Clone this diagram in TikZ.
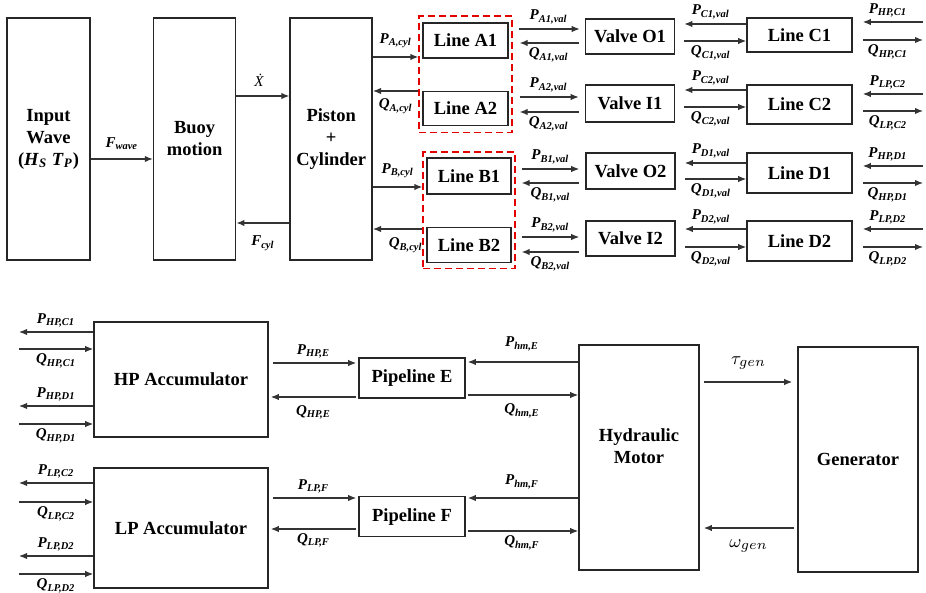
\documentclass[tikz,border=0pt]{standalone}
\usepackage{fontspec}
\setmainfont{Liberation Serif}
\usetikzlibrary{arrows.meta,positioning,fit}
\tikzset{
  blkbox/.style={draw=black!85, line width=0.8pt, align=center, inner sep=0pt, font=\fontsize{9.25}{11}\selectfont\bfseries},
  grpbox/.style={draw=red!90!black, line width=0.8pt, dash pattern=on 3.5pt off 2pt},
  sigarrow/.style={-{Latex[length=4pt,width=3.2pt]}, line width=0.6pt, draw=black!80},
  siglab/.style={font=\fontsize{7.5}{9}\selectfont\bfseries\itshape, inner sep=2.2pt},
  tipgap/.style={shorten >=#1},
  tailgap/.style={shorten <=#1},
}
\newcommand{\sg}[2]{#1\textsubscript{#2}}

\begin{document}
\begin{tikzpicture}[x=0.5pt, y=-0.5pt]
    \useasboundingbox (0,0) rectangle (926,593);
    % wave to cylinder
    \node[blkbox, minimum width=41.5pt, minimum height=121pt] (wave) at (48.5,139) {Input\\Wave\\(\textit{H}\textsubscript{\textit{S}} \textit{T}\textsubscript{\textit{P}})};
    \node[blkbox, right=31pt of wave, minimum width=41pt, minimum height=121pt] (buoy) {Buoy\\motion};
    \node[blkbox, right=26.5pt of buoy, minimum width=41pt, minimum height=121pt] (cyl) {Piston\\+\\Cylinder};
    % lines A and B
    \node[blkbox, minimum width=42.5pt, minimum height=17.5pt] (la1) at (465.5,40.5) {Line A1};
    \node[blkbox, below=16pt of la1, minimum width=42.5pt, minimum height=17pt] (la2) {Line A2};
    \node[blkbox, minimum width=42pt, minimum height=18pt] (lb1) at (469,176) {Line B1};
    \node[blkbox, below=16pt of lb1, minimum width=42pt, minimum height=17.5pt] (lb2) {Line B2};
    \node[grpbox, fit=(la1)(la2), inner xsep=1.5pt, inner ysep=3pt] (grpA) {};
    \node[grpbox, fit=(lb1)(lb2), inner xsep=1.5pt, inner ysep=2.5pt] (grpB) {};
    % valves
    \node[blkbox, minimum width=44.5pt, minimum height=17.5pt] (vo1) at (630,36.5) {Valve O1};
    \node[blkbox, minimum width=44.5pt, minimum height=18.5pt] (vi1) at (630,103.5) {Valve I1};
    \node[blkbox, minimum width=44.5pt, minimum height=18pt] (vo2) at (630.5,171) {Valve O2};
    \node[blkbox, minimum width=44.5pt, minimum height=17.5pt] (vi2) at (630.5,238.5) {Valve I2};
    % lines C and D
    \node[blkbox, minimum width=52.5pt, minimum height=17pt] (lc1) at (799.5,35) {Line C1};
    \node[blkbox, minimum width=52.5pt, minimum height=19.5pt] (lc2) at (799.5,104.5) {Line C2};
    \node[blkbox, minimum width=52.5pt, minimum height=20pt] (ld1) at (799.5,173) {Line D1};
    \node[blkbox, minimum width=52.5pt, minimum height=20pt] (ld2) at (799.5,241) {Line D2};
    \coordinate (redge) at (923,0);
    % accumulators, pipelines, motor
    \node[blkbox, minimum width=87pt, minimum height=57.5pt] (hp) at (181,379.5) {HP Accumulator};
    \node[blkbox, minimum width=87pt, minimum height=60pt] (lp) at (181,528) {LP Accumulator};
    \node[blkbox, minimum width=53pt, minimum height=20pt] (pe) at (412,378) {Pipeline E};
    \node[blkbox, below=48.5pt of pe, minimum width=53pt, minimum height=20pt] (pf) {Pipeline F};
    \node[blkbox, minimum width=60pt, minimum height=112.5pt, label={[blkbox, draw=none, yshift=5.5pt]center:Hydraulic\\Motor}] (hm) at (639,457.5) {};
    \node[blkbox, minimum width=60pt, minimum height=112.5pt] (gen) at (858,459.5) {Generator};
    \coordinate (ledge) at (19,0);

    \draw[sigarrow] (wave.east |- 0,159) -- node[siglab, above=2pt] {\sg{F}{wave}} (buoy.west |- 0,159);
    \draw[sigarrow] (buoy.east |- 0,96) -- node[siglab, above=2pt, xshift=-2pt, font=\fontsize{7.5}{9}\selectfont\itshape] {\.X} (cyl.west |- 0,96);
    \draw[sigarrow] (cyl.west |- 0,223) -- node[siglab, below=4pt] {\sg{F}{cyl}} (buoy.east |- 0,223);
    \draw[sigarrow] (cyl.east |- 0,57) -- node[siglab, above=2pt] {\sg{P}{A,cyl}} (grpA.west |- 0,57);
    \draw[sigarrow] (grpA.west |- 0,91) -- node[siglab, below=1.5pt] {\sg{Q}{A,cyl}} (cyl.east |- 0,91);
    \draw[sigarrow] (cyl.east |- 0,187) -- node[siglab, above=2pt] {\sg{P}{B,cyl}} (grpB.west |- 0,187);
    \draw[sigarrow] (grpB.west |- 0,229) -- node[siglab, below=2pt, xshift=4pt] {\sg{Q}{B,cyl}} (cyl.east |- 0,229);

    \draw[sigarrow, tailgap=3pt, tipgap=2.5pt] (grpA.east |- 0,29) -- node[siglab, above] {\sg{P}{A1,val}} (vo1.west |- 0,29);
    \draw[sigarrow, tailgap=3pt, tipgap=3.5pt] (vo1.west |- 0,43) -- node[siglab, below] {\sg{Q}{A1,val}} (grpA.east |- 0,43);
    \draw[sigarrow, tailgap=3.5pt, tipgap=3pt] (grpA.east |- 0,97) -- node[siglab, above] {\sg{P}{A2,val}} (vi1.west |- 0,97);
    \draw[sigarrow, tailgap=3pt, tipgap=3.5pt] (vi1.west |- 0,112) -- node[siglab, below] {\sg{Q}{A2,val}} (grpA.east |- 0,112);
    \draw[sigarrow, tailgap=3pt, tipgap=3pt] (grpB.east |- 0,169) -- node[siglab, above] {\sg{P}{B1,val}} (vo2.west |- 0,169);
    \draw[sigarrow, tailgap=3pt, tipgap=3pt] (vo2.west |- 0,183) -- node[siglab, below] {\sg{Q}{B1,val}} (grpB.east |- 0,183);
    \draw[sigarrow, tailgap=3pt, tipgap=3pt] (grpB.east |- 0,237) -- node[siglab, above] {\sg{P}{B2,val}} (vi2.west |- 0,237);
    \draw[sigarrow, tailgap=3pt, tipgap=3pt] (vi2.west |- 0,252) -- node[siglab, below] {\sg{Q}{B2,val}} (grpB.east |- 0,252);

    \draw[sigarrow, tipgap=4.5pt] (lc1.west |- 0,24) -- node[siglab, above] {\sg{P}{C1,val}} (vo1.east |- 0,24);
    \draw[sigarrow, tailgap=4.5pt] (vo1.east |- 0,41) -- node[siglab, below] {\sg{Q}{C1,val}} (lc1.west |- 0,41);
    \draw[sigarrow, tipgap=4.5pt] (lc2.west |- 0,90) -- node[siglab, above] {\sg{P}{C2,val}} (vi1.east |- 0,90);
    \draw[sigarrow, tailgap=4.5pt] (vi1.east |- 0,107) -- node[siglab, below] {\sg{Q}{C2,val}} (lc2.west |- 0,107);
    \draw[sigarrow, tipgap=4.5pt] (ld1.west |- 0,163) -- node[siglab, above] {\sg{P}{D1,val}} (vo2.east |- 0,163);
    \draw[sigarrow, tailgap=4.5pt] (vo2.east |- 0,179) -- node[siglab, below] {\sg{Q}{D1,val}} (ld1.west |- 0,179);
    \draw[sigarrow, tipgap=4.5pt] (ld2.west |- 0,229) -- node[siglab, above] {\sg{P}{D2,val}} (vi2.east |- 0,229);
    \draw[sigarrow, tailgap=4.5pt] (vi2.east |- 0,247) -- node[siglab, below] {\sg{Q}{D2,val}} (ld2.west |- 0,247);

    \draw[sigarrow, tipgap=5pt] (redge |- 0,22) -- node[siglab, above] {\sg{P}{HP,C1}} (lc1.east |- 0,22);
    \draw[sigarrow, tailgap=5pt] (lc1.east |- 0,40) -- node[siglab, below] {\sg{Q}{HP,C1}} (redge |- 0,40);
    \draw[sigarrow, tipgap=5pt] (redge |- 0,94) -- node[siglab, above] {\sg{P}{LP,C2}} (lc2.east |- 0,94);
    \draw[sigarrow, tailgap=5pt] (lc2.east |- 0,111) -- node[siglab, below] {\sg{Q}{LP,C2}} (redge |- 0,111);
    \draw[sigarrow, tipgap=5pt] (redge |- 0,166) -- node[siglab, above] {\sg{P}{HP,D1}} (ld1.east |- 0,166);
    \draw[sigarrow, tailgap=5pt] (ld1.east |- 0,183) -- node[siglab, below] {\sg{Q}{HP,D1}} (redge |- 0,183);
    \draw[sigarrow, tipgap=5pt] (redge |- 0,229) -- node[siglab, above] {\sg{P}{LP,D2}} (ld2.east |- 0,229);
    \draw[sigarrow, tailgap=5pt] (ld2.east |- 0,247) -- node[siglab, below] {\sg{Q}{LP,D2}} (redge |- 0,247);

    % accumulator ports
    \draw[sigarrow] (hp.west |- 0,332) -- node[siglab, above] {\sg{P}{HP,C1}} (ledge |- 0,332);
    \draw[sigarrow] (ledge |- 0,349) -- node[siglab, below] {\sg{Q}{HP,C1}} (hp.west |- 0,349);
    \draw[sigarrow] (hp.west |- 0,406) -- node[siglab, above] {\sg{P}{HP,D1}} (ledge |- 0,406);
    \draw[sigarrow] (ledge |- 0,424) -- node[siglab, below] {\sg{Q}{HP,D1}} (hp.west |- 0,424);
    \draw[sigarrow] (lp.west |- 0,483) -- node[siglab, above] {\sg{P}{LP,C2}} (ledge |- 0,483);
    \draw[sigarrow] (ledge |- 0,502) -- node[siglab, below] {\sg{Q}{LP,C2}} (lp.west |- 0,502);
    \draw[sigarrow] (lp.west |- 0,556) -- node[siglab, above] {\sg{P}{LP,D2}} (ledge |- 0,556);
    \draw[sigarrow] (ledge |- 0,574) -- node[siglab, below] {\sg{Q}{LP,D2}} (lp.west |- 0,574);

    \draw[sigarrow, tailgap=2pt, tipgap=1pt] (hp.east |- 0,363) -- node[siglab, above] {\sg{P}{HP,E}} (pe.west |- 0,363);
    \draw[sigarrow, tailgap=1pt, tipgap=1pt] (pe.west |- 0,397) -- node[siglab, below=2pt] {\sg{Q}{HP,E}} (hp.east |- 0,397);
    \draw[sigarrow, tipgap=1pt] (hm.west |- 0,362) -- node[siglab, above=3pt] {\sg{P}{hm,E}} (pe.east |- 0,362);
    \draw[sigarrow, tailgap=1pt] (pe.east |- 0,395) -- node[siglab, below=2pt] {\sg{Q}{hm,E}} (hm.west |- 0,395);
    \draw[sigarrow, tailgap=2pt, tipgap=1pt] (lp.east |- 0,498) -- node[siglab, above] {\sg{P}{LP,F}} (pf.west |- 0,498);
    \draw[sigarrow, tailgap=1pt, tipgap=1pt] (pf.west |- 0,529) -- node[siglab, below] {\sg{Q}{LP,F}} (lp.east |- 0,529);
    \draw[sigarrow, tipgap=1pt] (hm.west |- 0,498) -- node[siglab, above=2pt] {\sg{P}{hm,F}} (pf.east |- 0,498);
    \draw[sigarrow, tailgap=1pt] (pf.east |- 0,531) -- node[siglab, below] {\sg{Q}{hm,F}} (hm.west |- 0,531);
    \draw[sigarrow, tailgap=2pt, tipgap=2.5pt] (hm.east |- 0,382) -- node[above=3pt, font=\fontsize{9.5}{10}\selectfont] {$\tau_{gen}$} (gen.west |- 0,382);
    \draw[sigarrow, tailgap=1.5pt, tipgap=2pt] (gen.west |- 0,528) -- node[below=2pt, font=\fontsize{9.5}{10}\selectfont] {$\omega_{gen}$} (hm.east |- 0,528);
\end{tikzpicture}
\end{document}
